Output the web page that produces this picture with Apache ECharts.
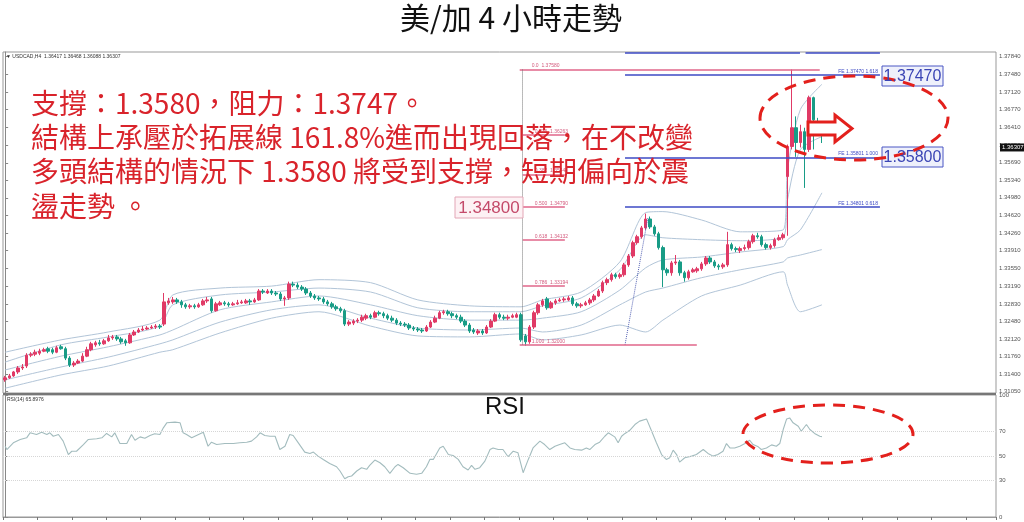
<!DOCTYPE html>
<html><head><meta charset="utf-8">
<script src="https://cdn.jsdelivr.net/npm/echarts@6/dist/echarts.min.js"></script>
<style>html,body{margin:0;padding:0;background:#fff}#c{width:1024px;height:522px}</style>
</head><body><div id="c"></div>
<script>
// ---- data ----
const titleText = '美/加 4 小時走勢';
const noteLines = ['支撐：1.3580，阻力：1.3747。','結構上承壓於拓展線 161.8%進而出現回落，在不改變','多頭結構的情況下 1.3580 將受到支撐，短期偏向於震','盪走勢 。'];
const headerText = '▼ USDCAD,H4  1.36417 1.36468 1.36088 1.36307';
const rsiHeader = 'RSI(14) 65.8976';
const lastClose = 1.36307;
const priceTicks = [1.3784,1.3748,1.3712,1.3677,1.3641,1.3605,1.3569,1.3534,1.3498,1.3462,1.3426,1.3391,1.3355,1.3319,1.3283,1.3248,1.3212,1.3176,1.3140,1.3105];
const rsiTicks = [0,30,50,70,100];
const rsiLevels = [70,50,30];
// [open, close, low, high]
const candles = [
[1.3129,1.3133,1.3125,1.3137],[1.3133,1.3137,1.3131,1.3141],[1.3137,1.3145,1.3135,1.3147],[1.3145,1.3153,1.3141,1.3157],[1.3153,1.3155,1.3149,1.3161],
[1.3157,1.3179,1.3153,1.3183],[1.3179,1.3181,1.3175,1.3185],[1.3181,1.3185,1.3177,1.3190],[1.3183,1.3187,1.3179,1.3192],[1.3187,1.3190,1.3185,1.3194],
[1.3192,1.3187,1.3183,1.3196],[1.3190,1.3185,1.3181,1.3194],[1.3185,1.3194,1.3183,1.3198],[1.3196,1.3192,1.3190,1.3200],[1.3192,1.3173,1.3169,1.3196],
[1.3173,1.3159,1.3155,1.3177],[1.3159,1.3163,1.3155,1.3167],[1.3163,1.3167,1.3161,1.3171],[1.3167,1.3177,1.3165,1.3183],[1.3177,1.3190,1.3175,1.3196],
[1.3190,1.3202,1.3187,1.3206],[1.3200,1.3204,1.3196,1.3208],[1.3204,1.3202,1.3198,1.3210],[1.3202,1.3208,1.3200,1.3212],[1.3208,1.3214,1.3206,1.3220],
[1.3214,1.3216,1.3210,1.3220],[1.3216,1.3212,1.3208,1.3220],[1.3212,1.3206,1.3202,1.3216],[1.3208,1.3204,1.3198,1.3212],[1.3204,1.3220,1.3202,1.3224],
[1.3220,1.3226,1.3218,1.3230],[1.3226,1.3230,1.3224,1.3234],[1.3230,1.3232,1.3228,1.3238],[1.3232,1.3234,1.3230,1.3238],[1.3234,1.3236,1.3232,1.3240],
[1.3236,1.3238,1.3232,1.3242],[1.3238,1.3236,1.3232,1.3242],[1.3242,1.3287,1.3238,1.3305],[1.3285,1.3289,1.3281,1.3295],[1.3287,1.3291,1.3283,1.3297],
[1.3291,1.3287,1.3283,1.3295],[1.3287,1.3281,1.3275,1.3291],[1.3281,1.3277,1.3273,1.3285],[1.3277,1.3279,1.3273,1.3283],[1.3279,1.3277,1.3273,1.3283],
[1.3277,1.3281,1.3275,1.3285],[1.3281,1.3289,1.3279,1.3293],[1.3289,1.3291,1.3285,1.3297],[1.3293,1.3269,1.3265,1.3297],[1.3269,1.3283,1.3267,1.3287],
[1.3281,1.3285,1.3279,1.3289],[1.3285,1.3283,1.3279,1.3289],[1.3283,1.3281,1.3277,1.3287],[1.3281,1.3283,1.3279,1.3287],[1.3283,1.3285,1.3281,1.3291],
[1.3285,1.3287,1.3283,1.3291],[1.3285,1.3289,1.3283,1.3293],[1.3289,1.3287,1.3281,1.3293],[1.3287,1.3291,1.3285,1.3295],[1.3291,1.3309,1.3289,1.3313],
[1.3309,1.3307,1.3303,1.3313],[1.3305,1.3309,1.3303,1.3313],[1.3309,1.3305,1.3301,1.3313],[1.3305,1.3303,1.3299,1.3309],[1.3303,1.3293,1.3289,1.3307],
[1.3293,1.3295,1.3279,1.3299],[1.3295,1.3323,1.3291,1.3328],[1.3323,1.3321,1.3317,1.3328],[1.3321,1.3317,1.3313,1.3326],[1.3317,1.3313,1.3309,1.3321],
[1.3313,1.3305,1.3301,1.3317],[1.3305,1.3299,1.3295,1.3309],[1.3299,1.3295,1.3291,1.3303],[1.3295,1.3293,1.3289,1.3299],[1.3293,1.3287,1.3283,1.3297],
[1.3287,1.3283,1.3279,1.3291],[1.3283,1.3277,1.3273,1.3287],[1.3277,1.3273,1.3269,1.3281],[1.3273,1.3269,1.3265,1.3277],[1.3269,1.3242,1.3238,1.3273],
[1.3242,1.3246,1.3238,1.3250],[1.3244,1.3248,1.3240,1.3252],[1.3248,1.3250,1.3244,1.3254],[1.3250,1.3256,1.3246,1.3261],[1.3254,1.3259,1.3250,1.3263],
[1.3259,1.3256,1.3252,1.3263],[1.3256,1.3265,1.3254,1.3269],[1.3265,1.3263,1.3259,1.3269],[1.3263,1.3259,1.3254,1.3267],[1.3259,1.3254,1.3250,1.3263],
[1.3254,1.3250,1.3246,1.3259],[1.3250,1.3244,1.3240,1.3254],[1.3244,1.3242,1.3238,1.3248],[1.3242,1.3240,1.3236,1.3246],[1.3240,1.3234,1.3230,1.3244],
[1.3234,1.3232,1.3228,1.3238],[1.3232,1.3230,1.3226,1.3236],[1.3230,1.3228,1.3224,1.3234],[1.3228,1.3236,1.3226,1.3240],[1.3236,1.3246,1.3234,1.3250],
[1.3246,1.3254,1.3244,1.3259],[1.3254,1.3265,1.3252,1.3269],[1.3265,1.3267,1.3261,1.3271],[1.3267,1.3263,1.3259,1.3271],[1.3263,1.3259,1.3254,1.3267],
[1.3259,1.3256,1.3252,1.3263],[1.3256,1.3248,1.3244,1.3261],[1.3248,1.3240,1.3236,1.3252],[1.3240,1.3228,1.3224,1.3244],[1.3230,1.3226,1.3222,1.3234],
[1.3224,1.3228,1.3220,1.3232],[1.3228,1.3224,1.3220,1.3232],[1.3224,1.3236,1.3222,1.3240],[1.3236,1.3248,1.3234,1.3252],[1.3248,1.3261,1.3246,1.3265],
[1.3261,1.3256,1.3252,1.3265],[1.3256,1.3254,1.3250,1.3261],[1.3254,1.3256,1.3250,1.3261],[1.3256,1.3259,1.3254,1.3263],[1.3256,1.3261,1.3254,1.3265],
[1.3261,1.3210,1.3206,1.3265],[1.3218,1.3206,1.3198,1.3222],[1.3206,1.3236,1.3202,1.3240],[1.3236,1.3265,1.3232,1.3269],[1.3265,1.3281,1.3261,1.3285],
[1.3281,1.3289,1.3277,1.3293],[1.3293,1.3275,1.3271,1.3297],[1.3275,1.3285,1.3273,1.3289],[1.3285,1.3289,1.3281,1.3293],[1.3289,1.3291,1.3287,1.3295],
[1.3291,1.3293,1.3287,1.3297],[1.3291,1.3295,1.3289,1.3299],[1.3295,1.3283,1.3279,1.3299],[1.3283,1.3279,1.3275,1.3287],[1.3279,1.3281,1.3275,1.3285],
[1.3281,1.3285,1.3279,1.3289],[1.3285,1.3291,1.3281,1.3295],[1.3291,1.3299,1.3287,1.3303],[1.3299,1.3309,1.3297,1.3313],[1.3309,1.3326,1.3305,1.3330],
[1.3326,1.3332,1.3321,1.3336],[1.3332,1.3342,1.3328,1.3346],[1.3342,1.3338,1.3334,1.3346],[1.3338,1.3342,1.3334,1.3346],[1.3342,1.3362,1.3338,1.3366],
[1.3362,1.3380,1.3358,1.3384],[1.3380,1.3407,1.3376,1.3411],[1.3407,1.3419,1.3403,1.3423],[1.3419,1.3437,1.3415,1.3441],[1.3437,1.3455,1.3433,1.3466],
[1.3455,1.3439,1.3435,1.3460],[1.3439,1.3425,1.3421,1.3443],[1.3425,1.3397,1.3393,1.3429],[1.3397,1.3352,1.3317,1.3401],[1.3352,1.3346,1.3340,1.3356],
[1.3346,1.3366,1.3340,1.3370],[1.3366,1.3368,1.3362,1.3382],[1.3368,1.3346,1.3340,1.3372],[1.3346,1.3336,1.3328,1.3350],[1.3336,1.3348,1.3332,1.3352],
[1.3348,1.3352,1.3346,1.3356],[1.3350,1.3354,1.3346,1.3358],[1.3354,1.3364,1.3350,1.3368],[1.3364,1.3376,1.3360,1.3380],[1.3376,1.3368,1.3364,1.3380],
[1.3368,1.3360,1.3356,1.3372],[1.3360,1.3358,1.3352,1.3364],[1.3358,1.3362,1.3354,1.3366],[1.3362,1.3403,1.3358,1.3429],[1.3403,1.3395,1.3391,1.3407],
[1.3395,1.3393,1.3388,1.3399],[1.3391,1.3395,1.3386,1.3399],[1.3395,1.3397,1.3391,1.3403],[1.3397,1.3409,1.3393,1.3413],[1.3409,1.3421,1.3405,1.3425],
[1.3421,1.3419,1.3415,1.3427],[1.3419,1.3403,1.3399,1.3423],[1.3403,1.3397,1.3393,1.3407],[1.3397,1.3401,1.3393,1.3405],[1.3401,1.3413,1.3397,1.3417],
[1.3413,1.3417,1.3411,1.3423],[1.3417,1.3423,1.3413,1.3427],[1.3541,1.3602,1.3421,1.3606],[1.3602,1.3640,1.3596,1.3758],[1.3640,1.3610,1.3581,1.3663],
[1.3610,1.3632,1.3600,1.3646],[1.3632,1.3596,1.3518,1.3640],[1.3596,1.3701,1.3591,1.3705],[1.3701,1.3656,1.3596,1.3703],[1.3652,1.3640,1.3632,1.3660],
[1.3642,1.3631,1.3609,1.3647]
];
// band lines: [bar index, price]
const bandU2 = [[0,1.3185],[13,1.3210],[24,1.3226],[36,1.3250],[39,1.3301],[50,1.3315],[62,1.3319],[73,1.3332],[85,1.3326],[96,1.3291],[108,1.3279],[120,1.3277],[125,1.3291],[134,1.3307],[143,1.3368],[149,1.3468],[153,1.3470],[162,1.3453],[171,1.3429],[181,1.3433],[182,1.3555],[185,1.3677],[190,1.3728]];
const bandU1 = [[0,1.3165],[13,1.3200],[24,1.3216],[36,1.3238],[39,1.3281],[50,1.3301],[62,1.3307],[73,1.3315],[85,1.3307],[96,1.3275],[108,1.3267],[120,1.3267],[125,1.3279],[134,1.3295],[143,1.3352],[149,1.3423],[153,1.3417],[162,1.3413],[171,1.3411],[181,1.3419],[182,1.3494],[185,1.3596],[190,1.3622]];
const bandMid = [[0,1.3149],[13,1.3177],[24,1.3196],[36,1.3220],[39,1.3230],[50,1.3271],[62,1.3287],[73,1.3299],[85,1.3281],[96,1.3259],[108,1.3250],[120,1.3250],[125,1.3254],[134,1.3267],[143,1.3311],[149,1.3356],[153,1.3372],[162,1.3378],[171,1.3388],[181,1.3399],[182,1.3413],[185,1.3433],[190,1.3508]];
const bandL1 = [[0,1.3129],[13,1.3155],[24,1.3175],[36,1.3202],[39,1.3210],[50,1.3246],[62,1.3271],[73,1.3281],[85,1.3254],[96,1.3234],[108,1.3230],[120,1.3234],[125,1.3226],[134,1.3240],[143,1.3281],[149,1.3307],[153,1.3315],[162,1.3336],[171,1.3352],[181,1.3368],[182,1.3376],[185,1.3382],[190,1.3393]];
const bandL2 = [[0,1.3112],[13,1.3139],[24,1.3157],[36,1.3185],[39,1.3190],[50,1.3224],[62,1.3254],[73,1.3267],[85,1.3238],[96,1.3218],[108,1.3216],[120,1.3222],[125,1.3210],[134,1.3220],[143,1.3240],[149,1.3226],[153,1.3250],[162,1.3299],[171,1.3321],[181,1.3348],[182,1.3321],[185,1.3267],[190,1.3281]];
// RSI: [bar index, value]
const rsi = [[0,58.0],[0.4,55.3],[1.9,60.8],[3.5,63.5],[5.0,64.9],[5.8,69.0],[7.3,67.6],[8.5,69.5],[9.7,67.6],[10.4,69.0],[11.2,66.2],[12.4,67.6],[13.5,62.2],[14.7,51.2],[15.5,53.9],[16.6,53.9],[18.2,59.4],[19.3,63.5],[21.3,64.1],[22.5,64.9],[23.6,68.5],[24.8,65.7],[25.5,69.0],[26.7,60.2],[28.3,60.2],[29.4,67.6],[30.2,62.9],[31.4,65.7],[32.5,64.6],[33.7,66.8],[34.8,68.2],[36.0,67.6],[36.8,73.1],[37.6,77.2],[39.5,77.8],[40.7,77.2],[41.4,69.0],[42.2,67.6],[43.4,64.9],[44.5,66.8],[46.1,69.5],[47.2,58.0],[48.0,61.3],[49.2,59.4],[51.1,60.2],[53.1,60.2],[54.6,60.8],[56.2,61.3],[57.3,62.2],[58.5,65.7],[59.3,69.0],[60.4,66.8],[61.6,66.2],[62.8,66.2],[63.9,55.3],[65.1,58.0],[66.2,67.6],[67.0,66.8],[68.2,60.8],[69.7,53.2],[70.9,52.1],[71.7,53.2],[72.8,49.9],[74.0,47.2],[75.5,43.9],[77.1,41.2],[77.9,37.7],[79.0,31.4],[79.8,33.0],[80.6,33.6],[81.8,37.7],[82.9,40.4],[84.1,39.1],[84.8,42.3],[86.0,46.7],[87.2,44.5],[88.3,41.2],[89.5,35.8],[90.7,41.2],[91.4,43.1],[92.6,40.4],[94.2,35.8],[95.7,35.0],[96.9,35.8],[98.0,41.2],[98.8,47.2],[99.6,47.2],[101.1,56.6],[101.9,58.0],[103.1,51.2],[104.2,50.4],[105.4,47.2],[106.5,41.2],[107.7,38.5],[108.5,42.3],[109.3,39.1],[110.4,40.4],[111.6,45.8],[112.8,55.3],[113.5,56.6],[114.7,55.3],[115.8,55.3],[117.0,49.4],[118.2,53.9],[119.3,52.6],[120.5,36.3],[121.7,47.2],[122.8,56.6],[124.4,62.2],[125.5,59.4],[126.7,55.3],[127.9,58.0],[129.0,59.4],[130.2,60.8],[131.4,56.6],[132.5,55.3],[134.1,54.8],[135.2,56.6],[136.0,55.3],[137.2,59.4],[138.3,61.3],[139.5,66.2],[140.3,69.0],[141.8,65.7],[142.6,60.8],[143.4,66.2],[144.2,68.5],[145.3,71.1],[146.5,75.8],[147.6,78.6],[149.2,80.4],[150.4,70.3],[151.5,60.8],[152.7,51.2],[153.8,47.2],[154.6,48.6],[155.4,54.8],[156.2,51.2],[156.9,45.0],[158.1,48.6],[159.7,49.9],[160.8,51.2],[162.4,55.3],[163.5,52.1],[164.7,49.9],[165.8,51.2],[167.0,53.9],[167.8,60.2],[168.6,56.6],[169.7,56.6],[170.9,58.0],[172.1,60.2],[173.2,62.9],[174.0,59.4],[175.2,57.5],[175.9,55.3],[177.1,56.6],[178.3,59.1],[179.4,58.0],[180.2,60.2],[181.0,71.7],[181.8,80.4],[182.5,81.2],[183.3,77.2],[184.5,74.4],[185.2,70.3],[186.4,75.8],[187.2,71.7],[188.3,68.5],[189.5,66.2],[190,65.9]];
// Fibonacci retracement: price, label, start bar, end bar
const fibPrices = [1.3758,1.3626,1.3545,1.3479,1.3413,1.3319,1.3200];
const fibLabels = ['0.0  1.37580','0.236  1.36263','0.382  1.35448','0.500  1.34790','0.618  1.34132','0.786  1.33194','1.000  1.32000'];
const fibStart = [119.7,120.4,120.4,120.4,120.4,120.4,119.7];
const fibEnd = [189.5,130.2,130.2,130.2,130.2,130.2,160.9];
// Fibonacci expansion
const fePrices = [1.3747,1.3580,1.3480];
const feLabels = ['FE 1.37470 1.618','FE 1.35801 1.000','FE 1.34801 0.618'];
const feSpan = [144.2,203.5];
const feTopPrice = 1.3791;
const boxLabels = ['1.37470','1.35800','1.34800'];
const nSlots = 231;

// ---- chart ----
const chart = echarts.init(document.getElementById('c'), null, {renderer:'canvas', devicePixelRatio:1});
const slots = Array.from({length:nSlots}, (_, i) => String(i));
const tiny = {fontSize:5, fontFamily:'Liberation Sans'};
const pink = '#e0668a', blue = '#3d4ac4', red = '#d9232b';

const fibMarks = fibPrices.map((p, k) => [
  {coord:[fibStart[k], p], lineStyle:{color:pink, width:1.5, type:'solid'},
   label:{show:true, formatter:fibLabels[k], position:'insideStartTop', color:'#d35a7d', distance:[12,1], ...tiny}},
  {coord:[fibEnd[k], p]}
]);
const feMarks = fePrices.map((p, k) => [
  {coord:[feSpan[0], p], lineStyle:{color:blue, width:1.5, type:'solid'},
   label:{show:true, formatter:feLabels[k], position:'insideEndTop', color:blue, distance:[2,1], ...tiny}},
  {coord:[feSpan[1], p]}
]);
feMarks.push([{coord:[feSpan[0], feTopPrice], lineStyle:{color:blue, width:1.5, type:'solid'}, label:{show:false}}, {coord:[184.9, feTopPrice]}]);
feMarks.push([{coord:[186.2, feTopPrice], lineStyle:{color:blue, width:1.5, type:'solid'}, label:{show:false}}, {coord:[feSpan[1], feTopPrice]}]);
fibMarks.push([{coord:[fibStart[1], fibPrices[0]], lineStyle:{color:'#777', width:1, type:'dotted'}, label:{show:false}}, {coord:[fibStart[1], fibPrices[6]]}]);
feMarks.push([{coord:[feSpan[0], fibPrices[6]], lineStyle:{color:'#5563b5', width:1, type:'dotted'}, label:{show:false}}, {coord:[149.5, 1.3457]}]);

function band(data) {
  return {type:'line', xAxisIndex:1, yAxisIndex:0, data, showSymbol:false, smooth:0.25, silent:true, z:1,
          lineStyle:{color:'#b2c5d8', width:1}};
}
const sU2 = band(bandU2), sMid = band(bandMid), sU1 = band(bandU1);
sMid.markLine = {symbol:'none', silent:true, data:fibMarks, animation:false};
sU1.markLine = {symbol:'none', silent:true, data:feMarks, animation:false};

const option = {
  animation:false,
  backgroundColor:'#fff',
  grid:[
    {left:3, top:52, width:993, height:341, show:true, borderColor:'#999', borderWidth:1, backgroundColor:'#fff'},
    {left:3, top:395, width:993, height:122, show:true, borderColor:'#999', borderWidth:1, backgroundColor:'#fff'}
  ],
  xAxis:[
    {type:'category', gridIndex:0, data:slots, boundaryGap:true, show:false},
    {type:'value', gridIndex:0, min:-0.5, max:nSlots-0.5, show:false},
    {type:'category', gridIndex:1, data:slots, boundaryGap:true,
     axisLine:{show:true, lineStyle:{color:'#999'}}, axisTick:{show:true, interval:7, length:3, lineStyle:{color:'#777'}},
     axisLabel:{show:false}, splitLine:{show:false}},
    {type:'value', gridIndex:1, min:-0.5, max:nSlots-0.5, show:false}
  ],
  yAxis:[
    {type:'value', gridIndex:0, position:'right', min:1.31023, max:1.37935,
     axisLine:{show:true, lineStyle:{color:'#888'}},
     axisTick:{show:true, length:3, customValues:priceTicks, lineStyle:{color:'#888'}},
     axisLabel:{show:true, customValues:priceTicks, formatter:v => v.toFixed(4) + '0', fontSize:6, color:'#555', margin:3, fontFamily:'Liberation Sans'},
     splitLine:{show:false}},
    {type:'value', gridIndex:1, position:'right', min:0, max:100,
     axisLine:{show:true, lineStyle:{color:'#888'}},
     axisTick:{show:true, length:3, customValues:rsiTicks, lineStyle:{color:'#888'}},
     axisLabel:{show:true, customValues:rsiTicks, fontSize:6, color:'#555', margin:3, fontFamily:'Liberation Sans'},
     splitLine:{show:false}}
  ],
  series:[
    sU2, sU1, sMid, band(bandL1), band(bandL2),
    {type:'candlestick', xAxisIndex:0, yAxisIndex:0, data:candles, barWidth:3, z:3,
     itemStyle:{color:'#e03a66', color0:'#189c86', borderColor:'#e03a66', borderColor0:'#189c86', borderWidth:1},
     markLine:{symbol:'none', silent:true, animation:false, z:10,
       data:[{yAxis:lastClose, lineStyle:{color:'rgba(0,0,0,0)', width:1, type:'solid'},
              label:{show:true, position:'end', formatter:lastClose.toFixed(5), backgroundColor:'#111', color:'#fff',
                     fontSize:6, fontFamily:'Liberation Sans', padding:[1,2], distance:4}}]}},
    {type:'line', xAxisIndex:3, yAxisIndex:1, data:rsi, showSymbol:false, silent:true,
     lineStyle:{color:'#a3bcbe', width:1.1},
     markLine:{symbol:'none', silent:true, animation:false, label:{show:false},
       lineStyle:{color:'#d6d6d6', width:1, type:'dotted'},
       data:rsiLevels.map(v => ({yAxis:v}))}}
  ],
  graphic:[
    {type:'line', z:50, shape:{x1:3, y1:394, x2:996, y2:394}, style:{stroke:'#777', lineWidth:2}},
    {type:'text', z:100, x:511, y:18, style:{text:titleText, font:'30px "Noto Sans CJK TC"', fill:'#111', textAlign:'center', textVerticalAlign:'middle'}},
    {type:'text', z:100, x:6, y:57, style:{text:headerText, font:'5px "Liberation Sans"', fill:'#333', textAlign:'left', textVerticalAlign:'middle'}},
    {type:'text', z:100, x:7, y:400, style:{text:rsiHeader, font:'5px "Liberation Sans"', fill:'#333', textAlign:'left', textVerticalAlign:'middle'}},
    {type:'text', z:100, x:505, y:407, style:{text:'RSI', font:'24px "Liberation Sans"', fill:'#111', textAlign:'center', textVerticalAlign:'middle'}},
    ...noteLines.map((t, k) => ({type:'text', z:100, x:31, y:103 + k*34.3,
       style:{text:t, font:'28px "Noto Sans CJK TC"', fill:red, textAlign:'left', textVerticalAlign:'middle'}})),
    {type:'rect', z:100, shape:{x:882, y:66, width:61, height:20}, style:{fill:'#eef0fb', stroke:'#4a56c4', lineWidth:1}},
    {type:'text', z:101, x:912.5, y:76.5, style:{text:boxLabels[0], font:'16px "Liberation Sans"', fill:'#3b45b5', textAlign:'center', textVerticalAlign:'middle'}},
    {type:'rect', z:100, shape:{x:882, y:147, width:61, height:20}, style:{fill:'#eef0fb', stroke:'#4a56c4', lineWidth:1}},
    {type:'text', z:101, x:912.5, y:157.5, style:{text:boxLabels[1], font:'16px "Liberation Sans"', fill:'#3b45b5', textAlign:'center', textVerticalAlign:'middle'}},
    {type:'rect', z:100, shape:{x:455, y:197, width:68, height:21}, style:{fill:'#fdf1f4', stroke:'#e3a6b6', lineWidth:1}},
    {type:'text', z:101, x:489, y:208, style:{text:boxLabels[2], font:'17px "Liberation Sans"', fill:'#c44a6a', textAlign:'center', textVerticalAlign:'middle'}},
    {type:'ellipse', z:100, shape:{cx:854, cy:118, rx:94, ry:42}, style:{fill:'none', stroke:'#e3201c', lineWidth:3, lineDash:[12,8]}},
    {type:'ellipse', z:100, shape:{cx:828, cy:434, rx:85, ry:29}, style:{fill:'none', stroke:'#e3201c', lineWidth:3, lineDash:[12,8]}},
    {type:'polygon', z:100, shape:{points:[[808,122],[835,122],[835,115],[852,128.5],[835,142],[835,135],[808,135]]}, style:{fill:'#fff', stroke:'#e3201c', lineWidth:3}}
  ]
};
chart.setOption(option);
</script>
</body></html>
